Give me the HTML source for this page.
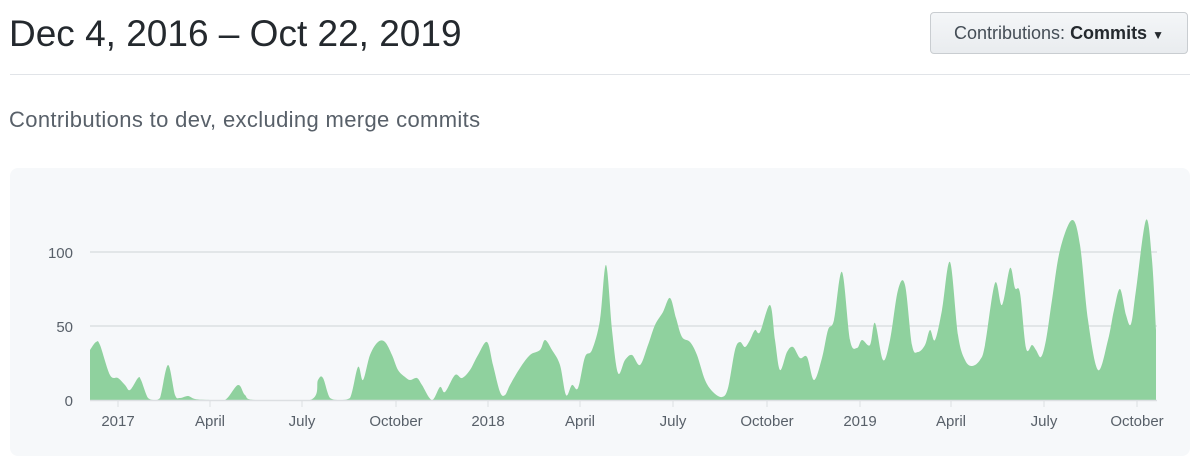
<!DOCTYPE html>
<html><head><meta charset="utf-8"><style>
body{margin:0;width:1200px;height:472px;background:#fff;font-family:"Liberation Sans",sans-serif;position:relative;overflow:hidden}
.t{position:absolute;left:9px;top:13px;font-size:37px;color:#24292e}
.btn{position:absolute;left:930px;top:12px;width:258px;height:42px;box-sizing:border-box;border:1px solid #c9cdd1;border-radius:4px;background:linear-gradient(#f4f6f8,#e9ecef);font-size:18px;color:#444d56;line-height:40px;text-align:center}
.btn b{color:#24292e;font-weight:bold}
.hr{position:absolute;left:10px;top:74px;width:1180px;height:1px;background:#e1e4e8}
.s{position:absolute;left:9px;top:107px;font-size:22px;letter-spacing:0.35px;color:#586069}
.card{position:absolute;left:10px;top:168px;width:1180px;height:288px;background:#f6f8fa;border-radius:8px}
</style></head><body>
<div class="t">Dec 4, 2016 – Oct 22, 2019</div>
<div class="btn">Contributions: <b>Commits</b> <span style="font-size:12px;color:#24292e">▼</span></div>
<div class="hr"></div>
<div class="s">Contributions to dev, excluding merge commits</div>
<div class="card"></div>
<svg width="1200" height="472" style="position:absolute;left:0;top:0" font-family="Liberation Sans, sans-serif" font-size="15" fill="#586069">
<line x1="90" y1="252" x2="1157" y2="252" stroke="#dcdfe2" stroke-width="1.5"/>
<line x1="90" y1="326" x2="1157" y2="326" stroke="#dcdfe2" stroke-width="1.5"/>
<path id="area" fill="#8fd19e" d=""/>
<line x1="90" y1="400.5" x2="1157" y2="400.5" stroke="#dcdfe2" stroke-width="1.5"/>
<g stroke="#dcdfe2" stroke-width="1"><line x1="118" y1="400" x2="118" y2="407"/><line x1="210" y1="400" x2="210" y2="407"/><line x1="302" y1="400" x2="302" y2="407"/><line x1="396" y1="400" x2="396" y2="407"/><line x1="488" y1="400" x2="488" y2="407"/><line x1="580" y1="400" x2="580" y2="407"/><line x1="673" y1="400" x2="673" y2="407"/><line x1="767" y1="400" x2="767" y2="407"/><line x1="860" y1="400" x2="860" y2="407"/><line x1="951" y1="400" x2="951" y2="407"/><line x1="1044" y1="400" x2="1044" y2="407"/><line x1="1137" y1="400" x2="1137" y2="407"/></g>
<g text-anchor="end"><text x="73" y="258">100</text><text x="73" y="332">50</text><text x="73" y="406">0</text></g>
<g text-anchor="middle"><text x="118" y="426">2017</text><text x="210" y="426">April</text><text x="302" y="426">July</text><text x="396" y="426">October</text><text x="488" y="426">2018</text><text x="580" y="426">April</text><text x="673" y="426">July</text><text x="767" y="426">October</text><text x="860" y="426">2019</text><text x="951" y="426">April</text><text x="1044" y="426">July</text><text x="1137" y="426">October</text></g>
</svg>
<script>
var p=[[90,350],[96,342],[100,345],[110,375],[118,378],[125,385],[130,390],[138,378],[141,380],[148,398],[155,400],[160,398],[168,365],[175,395],[180,398],[188,396],[195,399],[210,400],[225,400],[238,385],[245,395],[255,400],[310,400],[318,380],[323,378],[330,398],[340,400],[350,398],[358,367],[363,380],[370,355],[378,342],[385,342],[392,355],[398,370],[405,377],[410,380],[417,378],[422,385],[432,400],[440,387],[445,392],[455,375],[462,378],[470,370],[478,355],[487,342],[493,365],[500,392],[505,395],[510,385],[520,368],[530,355],[540,350],[545,340],[552,350],[560,365],[566,395],[572,385],[578,388],[585,357],[592,350],[600,320],[606,265],[612,330],[618,373],[625,360],[632,355],[640,365],[648,345],[655,325],[663,312],[670,298],[676,318],[682,337],[690,342],[697,355],[705,380],[713,392],[722,397],[728,388],[735,350],[740,342],[745,347],[750,340],[755,330],[760,332],[770,305],[775,340],[780,370],[787,352],[793,347],[800,358],[807,357],[814,380],[822,358],[828,330],[834,320],[842,272],[850,340],[857,348],[862,340],[870,345],[875,323],[883,360],[890,340],[898,290],[905,285],[912,345],[918,352],[925,345],[930,330],[935,340],[942,310],[950,262],[958,335],[965,360],[972,366],[980,360],[985,345],[995,283],[1002,305],[1010,268],[1015,288],[1020,293],[1026,348],[1032,345],[1036,350],[1041,357],[1046,340],[1052,300],[1060,250],[1072,220],[1080,245],[1088,320],[1098,370],[1108,340],[1114,310],[1120,289],[1126,315],[1131,324],[1136,290],[1146,220],[1152,260],[1156,330]];
var d="M90,400L"+p[0][0]+","+p[0][1];
for(var i=0;i<p.length-1;i++){var a=p[Math.max(i-1,0)],b=p[i],c=p[i+1],e=p[Math.min(i+2,p.length-1)];
var c1x=b[0]+(c[0]-a[0])/6,c1y=b[1]+(c[1]-a[1])/6,c2x=c[0]-(e[0]-b[0])/6,c2y=c[1]-(e[1]-b[1])/6;
c1y=Math.min(c1y,400);c2y=Math.min(c2y,400);
d+="C"+c1x+","+c1y+" "+c2x+","+c2y+" "+c[0]+","+c[1];}
d+="L1156,400Z";
document.getElementById("area").setAttribute("d",d);
</script>
</body></html>
